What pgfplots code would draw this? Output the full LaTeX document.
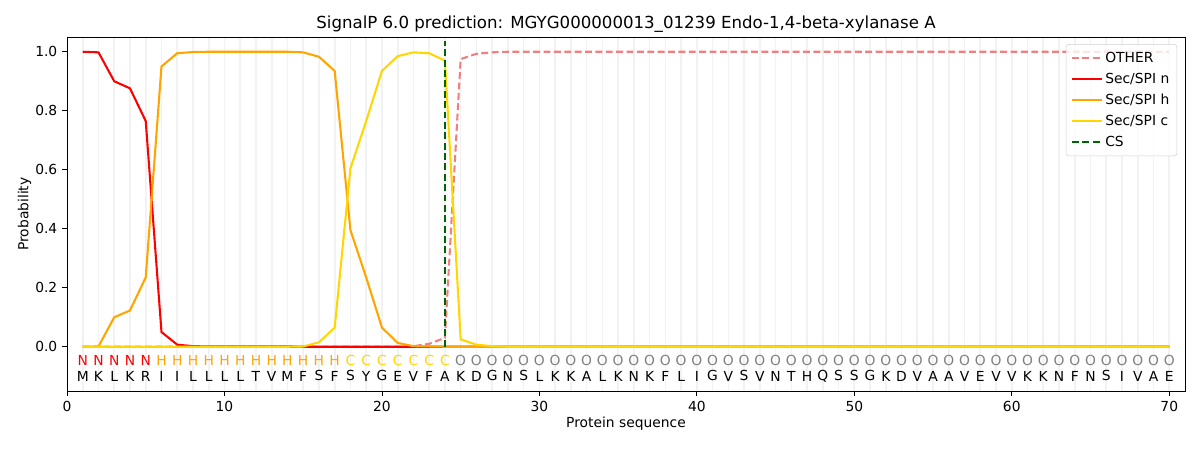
\documentclass[border=0pt]{standalone}
\usepackage{pgfplots}
\pgfplotsset{compat=1.18}
\usepackage{fontspec}
\setmainfont{DejaVu Sans}
\definecolor{lcoral}{HTML}{F08080}
\definecolor{mpred}{HTML}{FF0000}
\definecolor{mporange}{HTML}{FFA500}
\definecolor{mpgold}{HTML}{FFD700}
\definecolor{mpgreen}{HTML}{006400}
\definecolor{mpgray}{HTML}{808080}
\begin{document}
\fontsize{10}{12}\selectfont
\begin{tikzpicture}
\useasboundingbox (0,0) rectangle (12in,4.5in);
\begin{axis}[
  scale only axis,
  at={(0.67in,0.59in)}, anchor=south west,
  width=11.18in, height=3.54in,
  xmin=0, xmax=71, ymin=-0.15, ymax=1.05,
  xtick={0,10,...,70},
  ytick={0,0.2,0.4,0.6,0.8,1.0},
  yticklabel style={/pgf/number format/.cd,fixed,fixed zerofill,precision=1},
  /pgf/number format/assume math mode=true,
  minor xtick={1,...,70},
  minor x grid style={line width=1.2pt, color=black!5},
  xminorgrids=true,
  minor tick length=0pt,
  tick align=outside,
  xtick pos=bottom, ytick pos=left,
  major tick length=3.5pt,
  tick style={black, line width=0.6pt},
  axis line style={line width=0.6pt},
  title={\fontsize{12}{14}\selectfont SignalP 6.0 prediction: MGYG000000013\_01239 Endo-1,4-beta-xylanase A},
  title style={yshift=-6pt},
  xlabel={Protein sequence},
  ylabel={Probability},
  xlabel style={yshift=3pt},
  ylabel style={yshift=-4pt},
  legend style={at={(0.993,0.98)}, anchor=north east, draw=black!18, rounded corners=2pt,
    fill=white, fill opacity=0.8, text opacity=1, font=\fontsize{10}{12}\selectfont,
    row sep=2.2pt, inner sep=3.5pt},
  legend cell align=left,
  legend image code/.code={\draw[#1, line width=1.5pt] (0cm,0cm) -- (0.75cm,0cm);},
]
\addplot[lcoral, line width=1.5pt, dash pattern=on 5pt off 2.5pt] coordinates {
(1,0)(2,0)(3,0)(4,0)(5,0)(6,0)(7,0)(8,0)(9,0)(10,0)(11,0)(12,0)(13,0)(14,0)(15,0)(16,0)(17,0)(18,0)(19,0)(20,0)(21,0)(22,0.002)(23,0.01)(24,0.03)(25,0.975)(26,0.993)(27,0.998)(28,1)(29,1)(30,1)(31,1)(32,1)(33,1)(34,1)(35,1)(36,1)(37,1)(38,1)(39,1)(40,1)(41,1)(42,1)(43,1)(44,1)(45,1)(46,1)(47,1)(48,1)(49,1)(50,1)(51,1)(52,1)(53,1)(54,1)(55,1)(56,1)(57,1)(58,1)(59,1)(60,1)(61,1)(62,1)(63,1)(64,1)(65,1)(66,1)(67,1)(68,1)(69,1)(70,1)};
\addlegendentry{OTHER}
\addplot[mpred, line width=1.5pt] coordinates {
(1,1.0)(2,0.998)(3,0.90)(4,0.876)(5,0.765)(6,0.05)(7,0.007)(8,0.002)(9,0.001)(10,0.001)(11,0.001)(12,0.001)(13,0.001)(14,0.001)(15,0)(16,0)(17,0)(18,0)(19,0)(20,0)(21,0)(22,0)(23,0)(24,0)(25,0)(26,0)(27,0)(28,0)(29,0)(30,0)(31,0)(32,0)(33,0)(34,0)(35,0)(36,0)(37,0)(38,0)(39,0)(40,0)(41,0)(42,0)(43,0)(44,0)(45,0)(46,0)(47,0)(48,0)(49,0)(50,0)(51,0)(52,0)(53,0)(54,0)(55,0)(56,0)(57,0)(58,0)(59,0)(60,0)(61,0)(62,0)(63,0)(64,0)(65,0)(66,0)(67,0)(68,0)(69,0)(70,0)};
\addlegendentry{Sec/SPI n}
\addplot[mporange, line width=1.5pt] coordinates {
(1,0)(2,0.001)(3,0.10)(4,0.123)(5,0.235)(6,0.95)(7,0.995)(8,0.999)(9,1)(10,1)(11,1)(12,1)(13,1)(14,1)(15,0.998)(16,0.983)(17,0.935)(18,0.395)(19,0.235)(20,0.065)(21,0.013)(22,0.002)(23,0.001)(24,0)(25,0)(26,0)(27,0)(28,0)(29,0)(30,0)(31,0)(32,0)(33,0)(34,0)(35,0)(36,0)(37,0)(38,0)(39,0)(40,0)(41,0)(42,0)(43,0)(44,0)(45,0)(46,0)(47,0)(48,0)(49,0)(50,0)(51,0)(52,0)(53,0)(54,0)(55,0)(56,0)(57,0)(58,0)(59,0)(60,0)(61,0)(62,0)(63,0)(64,0)(65,0)(66,0)(67,0)(68,0)(69,0)(70,0)};
\addlegendentry{Sec/SPI h}
\addplot[mpgold, line width=1.5pt] coordinates {
(1,0)(2,0)(3,0)(4,0)(5,0)(6,0)(7,0)(8,0)(9,0)(10,0)(11,0)(12,0)(13,0)(14,0)(15,0.001)(16,0.015)(17,0.065)(18,0.605)(19,0.765)(20,0.935)(21,0.985)(22,0.998)(23,0.995)(24,0.97)(25,0.025)(26,0.007)(27,0.002)(28,0)(29,0)(30,0)(31,0)(32,0)(33,0)(34,0)(35,0)(36,0)(37,0)(38,0)(39,0)(40,0)(41,0)(42,0)(43,0)(44,0)(45,0)(46,0)(47,0)(48,0)(49,0)(50,0)(51,0)(52,0)(53,0)(54,0)(55,0)(56,0)(57,0)(58,0)(59,0)(60,0)(61,0)(62,0)(63,0)(64,0)(65,0)(66,0)(67,0)(68,0)(69,0)(70,0)};
\addlegendentry{Sec/SPI c}
\addplot[mpgreen, line width=1.5pt, dash pattern=on 5pt off 2.5pt] coordinates {(24,0)(24,1.035)};
\addlegendentry{CS}
% region labels
\pgfplotsset{every axis plot/.append style={forget plot}}
\addplot[only marks, mark=none, nodes near coords, point meta=explicit symbolic,
  nodes near coords style={anchor=center, text=mpred, font=\fontsize{10}{12}\selectfont}] coordinates {
(1,-0.047)[N](2,-0.047)[N](3,-0.047)[N](4,-0.047)[N](5,-0.047)[N]};
\addplot[only marks, mark=none, nodes near coords, point meta=explicit symbolic,
  nodes near coords style={anchor=center, text=mporange, font=\fontsize{10}{12}\selectfont}] coordinates {
(6,-0.047)[H](7,-0.047)[H](8,-0.047)[H](9,-0.047)[H](10,-0.047)[H](11,-0.047)[H](12,-0.047)[H](13,-0.047)[H](14,-0.047)[H](15,-0.047)[H](16,-0.047)[H](17,-0.047)[H]};
\addplot[only marks, mark=none, nodes near coords, point meta=explicit symbolic,
  nodes near coords style={anchor=center, text=mpgold, font=\fontsize{10}{12}\selectfont}] coordinates {
(18,-0.047)[C](19,-0.047)[C](20,-0.047)[C](21,-0.047)[C](22,-0.047)[C](23,-0.047)[C](24,-0.047)[C]};
\addplot[only marks, mark=none, nodes near coords, point meta=explicit symbolic,
  nodes near coords style={anchor=center, text=mpgray, font=\fontsize{10}{12}\selectfont}] coordinates {
(25,-0.047)[O](26,-0.047)[O](27,-0.047)[O](28,-0.047)[O](29,-0.047)[O](30,-0.047)[O](31,-0.047)[O](32,-0.047)[O](33,-0.047)[O](34,-0.047)[O](35,-0.047)[O](36,-0.047)[O](37,-0.047)[O](38,-0.047)[O](39,-0.047)[O](40,-0.047)[O](41,-0.047)[O](42,-0.047)[O](43,-0.047)[O](44,-0.047)[O](45,-0.047)[O](46,-0.047)[O](47,-0.047)[O](48,-0.047)[O](49,-0.047)[O](50,-0.047)[O](51,-0.047)[O](52,-0.047)[O](53,-0.047)[O](54,-0.047)[O](55,-0.047)[O](56,-0.047)[O](57,-0.047)[O](58,-0.047)[O](59,-0.047)[O](60,-0.047)[O](61,-0.047)[O](62,-0.047)[O](63,-0.047)[O](64,-0.047)[O](65,-0.047)[O](66,-0.047)[O](67,-0.047)[O](68,-0.047)[O](69,-0.047)[O](70,-0.047)[O]};
% sequence
\addplot[only marks, mark=none, nodes near coords, point meta=explicit symbolic,
  nodes near coords style={anchor=center, text=black, font=\fontsize{10}{12}\selectfont}] coordinates {
(1,-0.099)[M](2,-0.099)[K](3,-0.099)[L](4,-0.099)[K](5,-0.099)[R](6,-0.099)[I](7,-0.099)[I](8,-0.099)[L](9,-0.099)[L](10,-0.099)[L](11,-0.099)[L](12,-0.099)[T](13,-0.099)[V](14,-0.099)[M](15,-0.099)[F](16,-0.099)[S](17,-0.099)[F](18,-0.099)[S](19,-0.099)[Y](20,-0.099)[G](21,-0.099)[E](22,-0.099)[V](23,-0.099)[F](24,-0.099)[A](25,-0.099)[K](26,-0.099)[D](27,-0.099)[G](28,-0.099)[N](29,-0.099)[S](30,-0.099)[L](31,-0.099)[K](32,-0.099)[K](33,-0.099)[A](34,-0.099)[L](35,-0.099)[K](36,-0.099)[N](37,-0.099)[K](38,-0.099)[F](39,-0.099)[L](40,-0.099)[I](41,-0.099)[G](42,-0.099)[V](43,-0.099)[S](44,-0.099)[V](45,-0.099)[N](46,-0.099)[T](47,-0.099)[H](48,-0.099)[Q](49,-0.099)[S](50,-0.099)[S](51,-0.099)[G](52,-0.099)[K](53,-0.099)[D](54,-0.099)[V](55,-0.099)[A](56,-0.099)[A](57,-0.099)[V](58,-0.099)[E](59,-0.099)[V](60,-0.099)[V](61,-0.099)[K](62,-0.099)[K](63,-0.099)[N](64,-0.099)[F](65,-0.099)[N](66,-0.099)[S](67,-0.099)[I](68,-0.099)[V](69,-0.099)[A](70,-0.099)[E]};
\end{axis}
\end{tikzpicture}
\end{document}
